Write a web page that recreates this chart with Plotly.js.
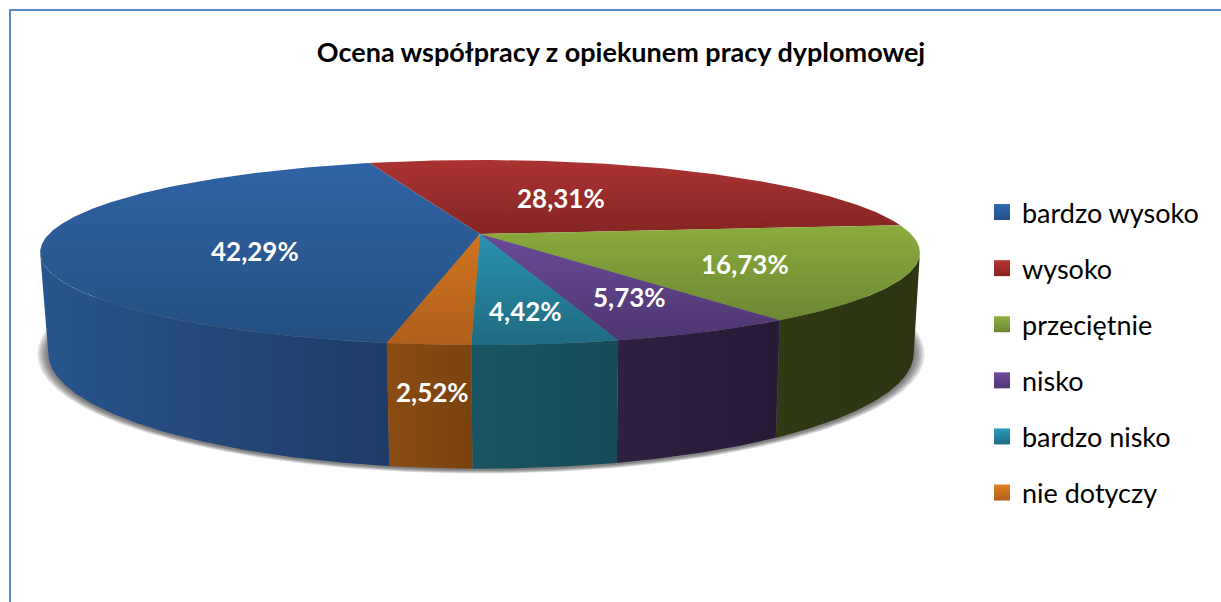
<!DOCTYPE html>
<html>
<head>
<meta charset="utf-8">
<script src="https://cdn.plot.ly/plotly-3.0.1.min.js"></script>
<style>html,body{margin:0;padding:0;background:#fff}#chart{width:1221px;height:602px}</style>
</head>
<body>
<div id="chart"></div>
<script>
// ---- data ----
const chartTitle = "Ocena współpracy z opiekunem pracy dyplomowej";
const categories = ["bardzo wysoko", "wysoko", "przeciętnie", "nisko", "bardzo nisko", "nie dotyczy"];
const values = [42.29, 28.31, 16.73, 5.73, 4.42, 2.52];

// ---- styles ----
const topLight  = ["#3063a5", "#ab3331", "#8bac3c", "#6a4a96", "#2a94b0", "#d0741f"];
const topDark   = ["#254f80", "#842524", "#6c8834", "#4e3670", "#1f6a80", "#b05f1b"];
const sideLight = ["#28558c", "#6a1f1f", "#303914", "#2f2040", "#1a5563", "#8a4c12"];
const sideDark  = ["#1e3c66", "#4d1616", "#2c3412", "#271a37", "#164a57", "#7a4210"];
const swatchLight = ["#2f68b0", "#b83533", "#8fb23e", "#6f4d9c", "#2b9cba", "#e27f22"];
const swatchDark  = ["#254f85", "#87231f", "#6b8633", "#4f3672", "#1d6b85", "#b05f1b"];
const labelAnchors = [[255, 251], [561, 198], [745, 264], [629, 297], [525, 311], [432, 392]];
const startAngle = 260;       // degrees, slices run clockwise from here
const rimLeft = 191.5, rimRight = 348.5; // silhouette of the cylinder
const topFace = {cx: 480, cy: 234, r: 431, a: 88.8, k: 0.2};
const baseFace = {cx: 481, cy: 330, r: 424, a: 111, k: 0.2};

function project(face, deg, rScale) {
  const t = deg * Math.PI / 180, s = rScale === undefined ? 1 : rScale;
  const x = Math.cos(t), y = Math.sin(t), d = 1 + face.k * y;
  return [face.cx + s * face.r * x / d, face.cy - face.a * y / d];
}
function arc(face, from, to) {
  const pts = [], n = Math.max(2, Math.ceil(Math.abs(to - from) / 0.5));
  for (let i = 0; i <= n; i++) pts.push(project(face, from + (to - from) * i / n));
  return pts;
}
const total = values.reduce((a, b) => a + b, 0);
const traces = [];

// soft shadow below the base
const baseCy = 353;
for (let i = 6; i >= 1; i--) {
  const sx = 1 + i * 0.0042, sy = 1 + i * 0.0055;
  const pts = arc(baseFace, 0, 360).map(p => [baseFace.cx + (p[0] - baseFace.cx) * sx, baseCy + (p[1] - baseCy) * sy + 1]);
  traces.push({x: pts.map(p => p[0]), y: pts.map(p => p[1]), mode: "lines", fill: "toself",
    fillcolor: "rgba(40,40,40,0.13)", line: {width: 0}, hoverinfo: "skip", showlegend: false});
}

// slices
let cursor = startAngle;
const slices = values.map(v => { const s = {from: cursor, to: cursor - v / total * 360}; cursor = s.to; return s; });

// visible side walls
slices.forEach((s, i) => {
  [0, 360].forEach(shift => {
    const hi = Math.min(s.from + shift, rimRight), lo = Math.max(s.to + shift, rimLeft);
    if (hi <= lo) return;
    const a = arc(topFace, lo, hi), b = arc(baseFace, hi, lo), pts = a.concat(b);
    const xs = pts.map(p => p[0]);
    traces.push({x: xs, y: pts.map(p => p[1]), mode: "lines", fill: "toself", line: {width: 0},
      fillgradient: {type: "horizontal", start: Math.min(...xs), stop: Math.max(...xs),
        colorscale: [[0, sideLight[i]], [1, sideDark[i]]]},
      hoverinfo: "skip", showlegend: false});
  });
});

// top face wedges
slices.forEach((s, i) => {
  const pts = [[topFace.cx, topFace.cy]].concat(arc(topFace, s.from, s.to));
  const ys = pts.map(p => p[1]);
  traces.push({x: pts.map(p => p[0]), y: ys, mode: "lines", fill: "toself", line: {width: 0},
    fillgradient: {type: "vertical", start: Math.min(...ys), stop: Math.max(...ys),
      colorscale: [[0, topLight[i]], [1, topDark[i]]]},
    hoverinfo: "skip", showlegend: false});
});

// legend entries
categories.forEach((c, i) => {
  traces.push({x: [null], y: [null], mode: "markers", name: c, legendgroup: c, showlegend: true,
    marker: {symbol: "square", size: 16, color: swatchLight[i], line: {width: 0},
      gradient: {type: "vertical", color: swatchDark[i]}}});
});

const fmt = v => v.toFixed(2).replace(".", ",") + "%";
const layout = {
  width: 1221, height: 602,
  margin: {l: 0, r: 0, t: 0, b: 0, autoexpand: false},
  paper_bgcolor: "#ffffff", plot_bgcolor: "#ffffff",
  title: {text: "<b>" + chartTitle + "</b>", x: 621 / 1221, xanchor: "center", xref: "paper",
    y: 1 - 53 / 602, yanchor: "middle", yref: "paper",
    font: {family: "Lato", size: 27, color: "#000000"}},
  xaxis: {range: [0, 1221], visible: false, fixedrange: true},
  yaxis: {range: [602, 0], visible: false, fixedrange: true},
  showlegend: true,
  legend: {x: 982 / 1221, xanchor: "left", y: 1 - 188 / 602, yanchor: "top",
    font: {family: "Lato", size: 27, color: "#000000"},
    bgcolor: "rgba(0,0,0,0)", borderwidth: 0, tracegroupgap: 18, traceorder: "grouped",
    itemclick: false, itemdoubleclick: false},
  shapes: [{type: "path", xref: "x", yref: "y", path: "M10,602 L10,10 L1221,10",
    line: {color: "#5b8bc8", width: 2}, layer: "above"}],
  annotations: values.map((v, i) => ({
    x: labelAnchors[i][0], y: labelAnchors[i][1], xref: "x", yref: "y", showarrow: false,
    text: "<b>" + fmt(v) + "</b>", xanchor: "center", yanchor: "middle",
    font: {family: "Lato", size: 26, color: "#ffffff"}}))
};
Plotly.newPlot("chart", traces, layout, {displayModeBar: false, responsive: false});
</script>
</body>
</html>
